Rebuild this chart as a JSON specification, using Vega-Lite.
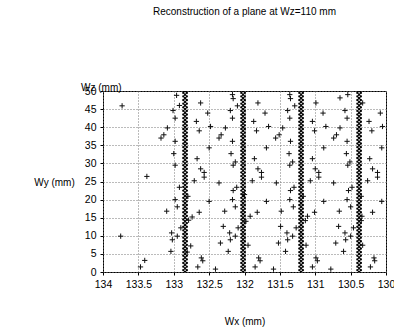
{
  "$schema": "https://vega.github.io/schema/vega-lite/v6.json",
  "autosize": "none",
  "width": 283,
  "height": 181,
  "padding": {"left": 103, "top": 91, "right": 8, "bottom": 57},
  "background": "white",
  "config": {
    "font": "Liberation Sans",
    "view": {"stroke": "black", "strokeWidth": 1},
    "axis": {
      "labelFont": "Liberation Sans", "labelFontSize": 10.5, "labelColor": "black",
      "titleFont": "Liberation Sans", "titleFontSize": 10, "titleFontWeight": "normal", "titleColor": "black",
      "domain": false, "ticks": true, "tickSize": 3, "tickColor": "black",
      "grid": true, "gridColor": "#777777", "gridDash": [1, 2], "gridWidth": 1,
      "labelPadding": 3, "labelFlush": false, "labelOverlap": false
    }
  },
  "title": {"text": "Reconstruction of a plane at Wz=110 mm", "font": "Liberation Sans", "fontSize": 10, "fontWeight": "normal", "color": "black", "offset": 66},
  "datasets": {
    "pts": [
      {"x":133.73,"y":45.9},{"x":133.09,"y":39.8},{"x":133.14,"y":37.9},{"x":133.18,"y":37.0},{"x":133.38,"y":26.4},{"x":133.10,"y":16.8},{"x":133.75,"y":9.9},{"x":133.41,"y":3.2},{"x":133.47,"y":1.4},{"x":133.03,"y":10.8},{"x":133.02,"y":8.9},{"x":133.04,"y":5.7},
      {"x":132.96,"y":48.8},{"x":132.92,"y":46.0},{"x":133.01,"y":44.6},{"x":132.98,"y":42.5},{"x":132.98,"y":36.1},{"x":133.00,"y":32.7},{"x":132.98,"y":29.5},{"x":132.92,"y":23.4},{"x":132.98,"y":20.0},{"x":132.95,"y":18.0},{"x":132.90,"y":12.2},{"x":132.95,"y":9.9},
      {"x":132.76,"y":7.2},{"x":132.81,"y":5.5},{"x":132.74,"y":15.2},{"x":132.79,"y":14.3},{"x":132.80,"y":20.9},
      {"x":132.62,"y":46.7},{"x":132.52,"y":43.9},{"x":132.68,"y":41.6},{"x":132.64,"y":39.0},{"x":132.48,"y":40.2},{"x":132.27,"y":39.8},{"x":132.33,"y":37.9},{"x":132.36,"y":37.0},{"x":132.50,"y":34.3},{"x":132.17,"y":36.1},{"x":132.19,"y":32.7},{"x":132.20,"y":44.6},{"x":132.17,"y":49.0},{"x":132.16,"y":47.9},{"x":132.10,"y":45.9},{"x":132.17,"y":42.5},
      {"x":132.67,"y":31.3},{"x":132.62,"y":28.5},{"x":132.57,"y":27.5},{"x":132.57,"y":26.2},{"x":132.71,"y":25.2},{"x":132.36,"y":24.6},{"x":132.16,"y":29.5},{"x":132.13,"y":30.4},{"x":132.11,"y":23.4},{"x":132.16,"y":22.5},{"x":132.17,"y":20.0},{"x":132.13,"y":18.0},{"x":132.50,"y":19.5},{"x":132.64,"y":16.5},{"x":132.28,"y":16.8},{"x":132.30,"y":12.6},{"x":132.09,"y":12.2},{"x":132.21,"y":10.8},{"x":132.13,"y":9.9},{"x":132.20,"y":8.9},{"x":132.34,"y":8.0},{"x":132.23,"y":5.7},{"x":132.61,"y":3.9},{"x":132.59,"y":3.1},{"x":132.66,"y":1.4},{"x":132.41,"y":0.8},
      {"x":131.98,"y":14.0},{"x":131.92,"y":15.4},{"x":131.95,"y":7.4},{"x":132.00,"y":21.4},
      {"x":131.81,"y":46.7},{"x":131.71,"y":43.9},{"x":131.87,"y":41.6},{"x":131.83,"y":39.0},{"x":131.66,"y":40.2},{"x":131.46,"y":39.8},{"x":131.51,"y":37.9},{"x":131.56,"y":37.0},{"x":131.69,"y":34.3},{"x":131.36,"y":49.0},{"x":131.35,"y":47.9},{"x":131.29,"y":45.9},{"x":131.39,"y":44.6},{"x":131.36,"y":42.5},{"x":131.35,"y":36.1},{"x":131.37,"y":32.7},
      {"x":131.86,"y":31.3},{"x":131.81,"y":28.5},{"x":131.76,"y":27.5},{"x":131.76,"y":26.2},{"x":131.89,"y":25.2},{"x":131.55,"y":24.6},{"x":131.36,"y":29.5},{"x":131.32,"y":30.4},{"x":131.30,"y":23.4},{"x":131.35,"y":22.5},{"x":131.36,"y":20.0},{"x":131.31,"y":18.0},{"x":131.69,"y":19.5},{"x":131.82,"y":16.5},{"x":131.48,"y":16.8},{"x":131.49,"y":12.6},{"x":131.27,"y":12.2},{"x":131.40,"y":10.8},{"x":131.32,"y":9.9},{"x":131.39,"y":8.9},{"x":131.52,"y":8.0},{"x":131.42,"y":5.7},{"x":131.80,"y":3.9},{"x":131.78,"y":3.1},{"x":131.85,"y":1.4},{"x":131.59,"y":0.8},
      {"x":131.17,"y":20.9},{"x":131.11,"y":15.4},{"x":131.14,"y":14.2},{"x":131.13,"y":7.4},
      {"x":130.99,"y":46.7},{"x":130.89,"y":43.9},{"x":131.04,"y":41.6},{"x":131.01,"y":39.0},{"x":130.85,"y":40.2},{"x":130.65,"y":39.8},{"x":130.70,"y":37.9},{"x":130.74,"y":37.0},{"x":130.88,"y":34.3},{"x":130.54,"y":49.0},{"x":130.65,"y":48.1},{"x":130.58,"y":44.6},{"x":130.55,"y":42.5},{"x":130.55,"y":36.1},{"x":130.56,"y":32.7},
      {"x":131.04,"y":31.3},{"x":131.00,"y":28.5},{"x":130.95,"y":27.5},{"x":130.95,"y":26.2},{"x":131.07,"y":25.2},{"x":130.74,"y":24.6},{"x":130.54,"y":29.5},{"x":130.51,"y":30.4},{"x":130.48,"y":23.4},{"x":130.53,"y":22.5},{"x":130.55,"y":20.0},{"x":130.50,"y":18.0},{"x":130.88,"y":19.5},{"x":131.01,"y":16.5},{"x":130.66,"y":16.8},{"x":130.67,"y":12.6},{"x":130.46,"y":12.2},{"x":130.58,"y":10.8},{"x":130.50,"y":9.9},{"x":130.57,"y":8.9},{"x":130.71,"y":8.0},{"x":130.60,"y":5.7},{"x":130.99,"y":3.9},{"x":130.97,"y":3.1},{"x":131.04,"y":1.4},{"x":130.78,"y":0.8},
      {"x":130.33,"y":46.7},{"x":130.08,"y":43.9},{"x":130.24,"y":41.6},{"x":130.20,"y":39.0},{"x":130.05,"y":40.2},{"x":130.06,"y":34.3},{"x":130.23,"y":31.3},{"x":130.19,"y":28.5},{"x":130.12,"y":27.5},{"x":130.12,"y":26.2},{"x":130.26,"y":25.2},{"x":130.35,"y":20.9},{"x":130.06,"y":19.5},{"x":130.19,"y":16.5},{"x":130.34,"y":15.4},{"x":130.35,"y":14.2},{"x":130.33,"y":7.4},{"x":130.17,"y":3.9},{"x":130.16,"y":3.1},{"x":130.22,"y":1.4}
    ],
    "cols": [
      {"x":132.84,"y":0},{"x":132.84,"y":1},{"x":132.84,"y":2},{"x":132.84,"y":3},{"x":132.84,"y":4},{"x":132.84,"y":5},{"x":132.84,"y":6},{"x":132.84,"y":7},{"x":132.84,"y":8},{"x":132.84,"y":9},{"x":132.84,"y":10},{"x":132.84,"y":11},{"x":132.84,"y":12},{"x":132.84,"y":13},{"x":132.84,"y":14},{"x":132.84,"y":15},{"x":132.84,"y":16},{"x":132.84,"y":17},{"x":132.84,"y":18},{"x":132.84,"y":19},{"x":132.84,"y":20},{"x":132.84,"y":21},{"x":132.84,"y":22},{"x":132.84,"y":23},{"x":132.84,"y":24},{"x":132.84,"y":25},{"x":132.84,"y":26},{"x":132.84,"y":27},{"x":132.84,"y":28},{"x":132.84,"y":29},{"x":132.84,"y":30},{"x":132.84,"y":31},{"x":132.84,"y":32},{"x":132.84,"y":33},{"x":132.84,"y":34},{"x":132.84,"y":35},{"x":132.84,"y":36},{"x":132.84,"y":37},{"x":132.84,"y":38},{"x":132.84,"y":39},{"x":132.84,"y":40},{"x":132.84,"y":41},{"x":132.84,"y":42},{"x":132.84,"y":43},{"x":132.84,"y":44},{"x":132.84,"y":45},{"x":132.84,"y":46},{"x":132.84,"y":47},{"x":132.84,"y":48},{"x":132.84,"y":49},{"x":132.84,"y":50},
      {"x":132.02,"y":0},{"x":132.02,"y":1},{"x":132.02,"y":2},{"x":132.02,"y":3},{"x":132.02,"y":4},{"x":132.02,"y":5},{"x":132.02,"y":6},{"x":132.02,"y":7},{"x":132.02,"y":8},{"x":132.02,"y":9},{"x":132.02,"y":10},{"x":132.02,"y":11},{"x":132.02,"y":12},{"x":132.02,"y":13},{"x":132.02,"y":14},{"x":132.02,"y":15},{"x":132.02,"y":16},{"x":132.02,"y":17},{"x":132.02,"y":18},{"x":132.02,"y":19},{"x":132.02,"y":20},{"x":132.02,"y":21},{"x":132.02,"y":22},{"x":132.02,"y":23},{"x":132.02,"y":24},{"x":132.02,"y":25},{"x":132.02,"y":26},{"x":132.02,"y":27},{"x":132.02,"y":28},{"x":132.02,"y":29},{"x":132.02,"y":30},{"x":132.02,"y":31},{"x":132.02,"y":32},{"x":132.02,"y":33},{"x":132.02,"y":34},{"x":132.02,"y":35},{"x":132.02,"y":36},{"x":132.02,"y":37},{"x":132.02,"y":38},{"x":132.02,"y":39},{"x":132.02,"y":40},{"x":132.02,"y":41},{"x":132.02,"y":42},{"x":132.02,"y":43},{"x":132.02,"y":44},{"x":132.02,"y":45},{"x":132.02,"y":46},{"x":132.02,"y":47},{"x":132.02,"y":48},{"x":132.02,"y":49},{"x":132.02,"y":50},
      {"x":131.20,"y":0},{"x":131.20,"y":1},{"x":131.20,"y":2},{"x":131.20,"y":3},{"x":131.20,"y":4},{"x":131.20,"y":5},{"x":131.20,"y":6},{"x":131.20,"y":7},{"x":131.20,"y":8},{"x":131.20,"y":9},{"x":131.20,"y":10},{"x":131.20,"y":11},{"x":131.20,"y":12},{"x":131.20,"y":13},{"x":131.20,"y":14},{"x":131.20,"y":15},{"x":131.20,"y":16},{"x":131.20,"y":17},{"x":131.20,"y":18},{"x":131.20,"y":19},{"x":131.20,"y":20},{"x":131.20,"y":21},{"x":131.20,"y":22},{"x":131.20,"y":23},{"x":131.20,"y":24},{"x":131.20,"y":25},{"x":131.20,"y":26},{"x":131.20,"y":27},{"x":131.20,"y":28},{"x":131.20,"y":29},{"x":131.20,"y":30},{"x":131.20,"y":31},{"x":131.20,"y":32},{"x":131.20,"y":33},{"x":131.20,"y":34},{"x":131.20,"y":35},{"x":131.20,"y":36},{"x":131.20,"y":37},{"x":131.20,"y":38},{"x":131.20,"y":39},{"x":131.20,"y":40},{"x":131.20,"y":41},{"x":131.20,"y":42},{"x":131.20,"y":43},{"x":131.20,"y":44},{"x":131.20,"y":45},{"x":131.20,"y":46},{"x":131.20,"y":47},{"x":131.20,"y":48},{"x":131.20,"y":49},{"x":131.20,"y":50},
      {"x":130.38,"y":0},{"x":130.38,"y":1},{"x":130.38,"y":2},{"x":130.38,"y":3},{"x":130.38,"y":4},{"x":130.38,"y":5},{"x":130.38,"y":6},{"x":130.38,"y":7},{"x":130.38,"y":8},{"x":130.38,"y":9},{"x":130.38,"y":10},{"x":130.38,"y":11},{"x":130.38,"y":12},{"x":130.38,"y":13},{"x":130.38,"y":14},{"x":130.38,"y":15},{"x":130.38,"y":16},{"x":130.38,"y":17},{"x":130.38,"y":18},{"x":130.38,"y":19},{"x":130.38,"y":20},{"x":130.38,"y":21},{"x":130.38,"y":22},{"x":130.38,"y":23},{"x":130.38,"y":24},{"x":130.38,"y":25},{"x":130.38,"y":26},{"x":130.38,"y":27},{"x":130.38,"y":28},{"x":130.38,"y":29},{"x":130.38,"y":30},{"x":130.38,"y":31},{"x":130.38,"y":32},{"x":130.38,"y":33},{"x":130.38,"y":34},{"x":130.38,"y":35},{"x":130.38,"y":36},{"x":130.38,"y":37},{"x":130.38,"y":38},{"x":130.38,"y":39},{"x":130.38,"y":40},{"x":130.38,"y":41},{"x":130.38,"y":42},{"x":130.38,"y":43},{"x":130.38,"y":44},{"x":130.38,"y":45},{"x":130.38,"y":46},{"x":130.38,"y":47},{"x":130.38,"y":48},{"x":130.38,"y":49},{"x":130.38,"y":50}
    ],
    "lbl": [{"x": 134, "y": 50, "label": "Wz (mm)"}]
  },
  "encoding": {
    "x": {
      "field": "x", "type": "quantitative",
      "scale": {"domain": [130, 134], "reverse": true, "nice": false, "zero": false},
      "axis": {"values": [134, 133.5, 133, 132.5, 132, 131.5, 131, 130.5, 130], "format": "~g", "title": "Wx (mm)", "titleY": 49, "titleBaseline": "middle", "labelPadding": 4}
    },
    "y": {
      "field": "y", "type": "quantitative",
      "scale": {"domain": [0, 50], "nice": false, "zero": false},
      "axis": {"values": [0, 5, 10, 15, 20, 25, 30, 35, 40, 45, 50], "title": "Wy (mm)", "titleAngle": 0, "titleX": -49, "titleY": 91, "titleAlign": "center", "titleBaseline": "middle", "labelPadding": 4}
    }
  },
  "layer": [
    {
      "data": {"name": "cols"},
      "mark": {"type": "point", "shape": "M-1,-1L1,1M1,-1L-1,1", "filled": false, "stroke": "#000000", "strokeWidth": 1.2, "size": 26, "opacity": 1, "clip": true}
    },
    {
      "data": {"name": "pts"},
      "mark": {"type": "point", "shape": "M-1,0L1,0M0,-1L0,1", "filled": false, "stroke": "#111111", "strokeWidth": 1, "size": 28, "opacity": 1, "clip": true}
    },
    {
      "data": {"name": "lbl"},
      "mark": {"type": "text", "align": "left", "baseline": "middle", "dx": -22, "dy": -3, "fontSize": 10, "font": "Liberation Sans", "color": "black"},
      "encoding": {"text": {"field": "label"}}
    }
  ]
}
